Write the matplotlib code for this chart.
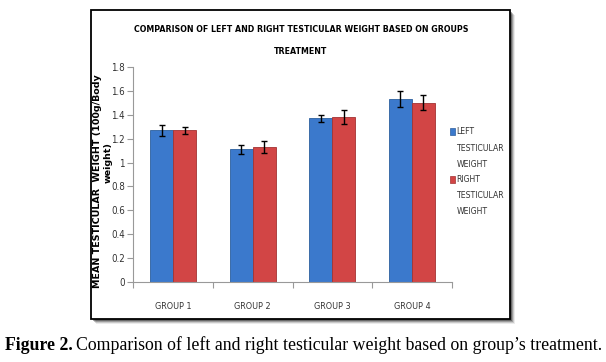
import numpy as np
import matplotlib.pyplot as plt
from matplotlib.patches import Rectangle

groups = ['GROUP 1', 'GROUP 2', 'GROUP 3', 'GROUP 4']
left_w = [1.27, 1.11, 1.37, 1.53]
left_err = [0.045, 0.04, 0.03, 0.07]
right_w = [1.27, 1.13, 1.38, 1.50]
right_err = [0.03, 0.05, 0.06, 0.06]
series_names = [['LEFT', 'TESTICULAR', 'WEIGHT'], ['RIGHT', 'TESTICULAR', 'WEIGHT']]
series_colors = ['#3b79cc', '#d24545']
edge_colors = ['#2c5f9e', '#a33333']

cond = dict(family='DejaVu Sans', fontstretch='condensed')

fig = plt.figure(figsize=(6.06, 3.62), dpi=100)

# chart frame with a soft shadow
for i, a in enumerate([0.08, 0.14, 0.22, 0.32]):
    off = (5 - i) / 606
    offy = (5 - i) / 362
    fig.patches.append(Rectangle((91/606 + off, 1 - 319/362 - offy), 419/606, 309.5/362,
                                 transform=fig.transFigure, facecolor='black', alpha=a,
                                 edgecolor='none', zorder=0))
fig.patches.append(Rectangle((91/606, 1 - 319/362), 419/606, 309.5/362,
                             transform=fig.transFigure, facecolor='white',
                             edgecolor='black', linewidth=1.3, zorder=1))

ax = fig.add_axes([133.3/606, 1 - 282.3/362, 318.4/606, 215.6/362])
ax.set_zorder(2)
ax.patch.set_alpha(0)

x = np.arange(len(groups))
bw = 0.29
ekw = dict(ecolor='black', elinewidth=1, capsize=2.5, capthick=1)
ax.bar(x - bw/2, left_w, bw, yerr=left_err, color=series_colors[0],
       edgecolor=edge_colors[0], linewidth=0.6, error_kw=ekw)
ax.bar(x + bw/2, right_w, bw, yerr=right_err, color=series_colors[1],
       edgecolor=edge_colors[1], linewidth=0.6, error_kw=ekw)

ax.set_xlim(-0.5, 3.5)
ax.set_ylim(0, 1.8)
ax.set_yticks(np.arange(0, 1.81, 0.2))
ax.set_yticklabels(['0', '0.2', '0.4', '0.6', '0.8', '1', '1.2', '1.4', '1.6', '1.8'],
                   fontsize=7, color='#333333', **cond)
ax.set_xticks(x)
ax.set_xticklabels(groups, fontsize=6.5, color='#333333', **cond)
ax.set_xticks(np.arange(-0.5, 3.6, 1), minor=True)
ax.tick_params(axis='x', which='major', length=0, pad=14)
ax.tick_params(axis='x', which='minor', length=4, color='#999999', width=0.8)
ax.tick_params(axis='y', length=4, color='#999999', width=0.8, pad=2)
for s in ['top', 'right']:
    ax.spines[s].set_visible(False)
for s in ['left', 'bottom']:
    ax.spines[s].set_color('#999999')
    ax.spines[s].set_linewidth(0.8)

# legend: marker beside the first line of each entry
leg_y = [131.5, 179.0]
for lines, col, ec, y0 in zip(series_names, series_colors, edge_colors, leg_y):
    fig.patches.append(Rectangle((450/606, 1 - (y0 + 3.5)/362), 5/606, 7/362,
                                 transform=fig.transFigure, facecolor=col,
                                 edgecolor=ec, linewidth=0.5, zorder=3))
    for k, s in enumerate(lines):
        fig.text(456.5/606, 1 - (y0 + k * 16.5)/362, s, ha='left', va='center',
                 fontsize=6.2, color='#333333', **cond)

fig.text(301/606, 1 - 30/362, 'COMPARISON OF LEFT AND RIGHT TESTICULAR WEIGHT BASED ON GROUPS',
         ha='center', va='center', fontsize=6.3, fontweight='bold', **cond)
fig.text(301/606, 1 - 51/362, 'TREATMENT', ha='center', va='center',
         fontsize=6.3, fontweight='bold', **cond)

fig.text(97/606, 1 - 181/362, 'MEAN TESTICULAR  WEIGHT (100g/Body', rotation=90,
         ha='center', va='center', fontsize=6.8, fontweight='bold')
fig.text(108.5/606, 1 - 162/362, 'weight)', rotation=90,
         ha='center', va='center', fontsize=6.8, fontweight='bold')

serif = ['Liberation Serif', 'DejaVu Serif']
t1 = fig.text(5/606, 1 - 345/362, 'Figure 2.', ha='left', va='center',
              fontsize=12.8, fontweight='bold', family=serif)
fig.canvas.draw()
bb = t1.get_window_extent()
fig.text((bb.x1 + 3) / 606, 1 - 345/362,
         'Comparison of left and right testicular weight based on group\u2019s treatment.',
         ha='left', va='center', fontsize=12.8, family=serif)

fig.savefig('out.png', dpi=100)
